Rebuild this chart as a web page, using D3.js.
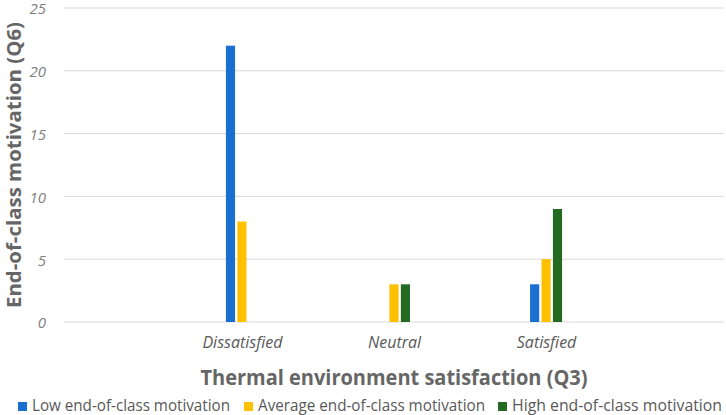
<!DOCTYPE html>
<html>
<head>
<meta charset="utf-8">
<script src="https://cdn.jsdelivr.net/npm/d3@7"></script>
<style>
  body { margin: 0; background: #fff; }
  svg { display: block; font-family: "Open Sans", sans-serif; }
</style>
</head>
<body>
<svg width="726" height="415"></svg>
<script>
// categories and series
const categories = ['Dissatisfied', 'Neutral', 'Satisfied'];
const seriesNames = ['Low end-of-class motivation', 'Average end-of-class motivation', 'High end-of-class motivation'];
const lowValues = [22, 0, 3];
const averageValues = [8, 3, 5];
const highValues = [0, 3, 9];
const yTicks = [0, 5, 10, 15, 20, 25];

const colors = ['#1a6fd0', '#ffc000', '#236b22'];

const rows = categories.map((c, i) => ({
  category: c,
  values: [lowValues[i], averageValues[i], highValues[i]]
}));

const plotLeft = 64, plotRight = 724, plotTop = 8, plotBottom = 322;
const svg = d3.select('svg');

const yScale = d3.scaleLinear().domain([0, 25]).range([plotBottom, plotTop]);
const xScale = d3.scalePoint().domain(categories).range([plotLeft, plotRight]).padding(1.17);
const subScale = d3.scaleBand().domain(seriesNames).range([-16, 16]).paddingInner(0.2);

// gridlines
svg.append('g')
  .selectAll('line').data(yTicks).join('line')
  .attr('x1', plotLeft).attr('x2', plotRight)
  .attr('y1', d => yScale(d)).attr('y2', d => yScale(d))
  .attr('stroke', '#d9d9d9').attr('stroke-width', 1);

// y tick labels
const yAxis = svg.append('g')
  .attr('transform', `translate(${plotLeft - 18}, 1)`)
  .call(d3.axisLeft(yScale).tickValues(yTicks).tickSize(0).tickPadding(0));
yAxis.select('.domain').remove();
yAxis.selectAll('text')
  .attr('font-size', 15).attr('font-style', 'italic').attr('fill', '#808080')
  .attr('font-family', '"Open Sans", sans-serif');

// bars
const groups = svg.append('g').selectAll('g').data(rows).join('g')
  .attr('transform', d => `translate(${xScale(d.category)}, 0)`);
groups.selectAll('rect')
  .data(d => d.values.map((v, i) => ({ name: seriesNames[i], value: v, i })))
  .join('rect')
  .attr('x', d => subScale(d.name))
  .attr('width', subScale.bandwidth())
  .attr('y', d => yScale(d.value))
  .attr('height', d => plotBottom - yScale(d.value))
  .attr('fill', d => colors[d.i]);

// x labels
const xAxis = svg.append('g')
  .attr('transform', `translate(0, ${plotBottom})`)
  .call(d3.axisBottom(xScale).tickSize(0).tickPadding(15));
xAxis.select('.domain').remove();
xAxis.selectAll('text')
  .attr('font-size', 16).attr('font-style', 'italic').attr('fill', '#595959')
  .attr('font-family', '"Open Sans", sans-serif');

// axis titles
svg.append('text')
  .attr('x', (plotLeft + plotRight) / 2).attr('y', 385)
  .attr('text-anchor', 'middle')
  .attr('font-size', 22).attr('font-weight', 'bold').attr('fill', '#666')
  .attr('textLength', 387).attr('lengthAdjust', 'spacingAndGlyphs')
  .text('Thermal environment satisfaction (Q3)');

svg.append('text')
  .attr('transform', `translate(21, 165) rotate(-90)`)
  .attr('text-anchor', 'middle')
  .attr('font-size', 20).attr('font-weight', 'bold').attr('fill', '#666')
  .attr('textLength', 286).attr('lengthAdjust', 'spacingAndGlyphs')
  .text('End-of-class motivation (Q6)');

// legend
const legendX = [18, 244, 498];
const legendW = [198, 227, 210];
const legend = svg.append('g').selectAll('g').data(seriesNames).join('g')
  .attr('transform', (d, i) => `translate(${legendX[i]}, 411)`);
legend.append('rect')
  .attr('x', 0).attr('y', -9).attr('width', 9).attr('height', 9)
  .attr('fill', (d, i) => colors[i]);
legend.append('text')
  .attr('x', 14).attr('y', 0)
  .attr('font-size', 16).attr('fill', '#595959')
  .attr('textLength', (d, i) => legendW[i]).attr('lengthAdjust', 'spacingAndGlyphs')
  .text(d => d);
</script>
</body>
</html>
